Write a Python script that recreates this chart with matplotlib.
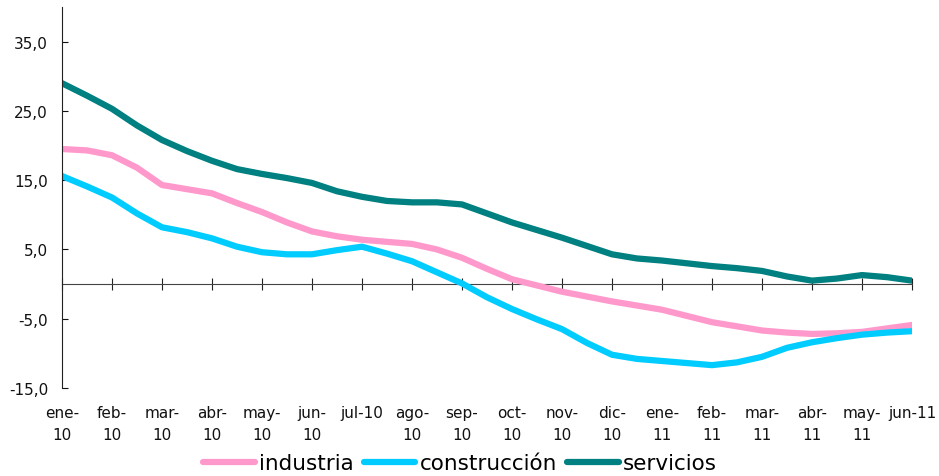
import numpy as np
import matplotlib.pyplot as plt

# half-month steps from ene-10 (0) to jun-11 (17)
x = np.arange(0, 17.5, 0.5)

industria = [19.5, 19.3, 18.6, 16.8, 14.3, 13.7, 13.1, 11.7, 10.4, 8.9,
             7.6, 6.9, 6.4, 6.1, 5.8, 5.0, 3.8, 2.2, 0.7, -0.2,
             -1.1, -1.8, -2.5, -3.1, -3.7, -4.6, -5.5, -6.1, -6.7, -7.0,
             -7.2, -7.1, -6.9, -6.4, -5.9]
construccion = [15.6, 14.1, 12.5, 10.2, 8.2, 7.5, 6.6, 5.4, 4.6, 4.3,
                4.3, 4.9, 5.4, 4.4, 3.3, 1.7, 0.1, -1.9, -3.6, -5.1,
                -6.5, -8.5, -10.2, -10.8, -11.1, -11.4, -11.7, -11.3, -10.5, -9.2,
                -8.4, -7.8, -7.3, -7.0, -6.8]
servicios = [29.0, 27.2, 25.3, 22.9, 20.8, 19.2, 17.8, 16.6, 15.9, 15.3,
             14.6, 13.4, 12.6, 12.0, 11.8, 11.8, 11.5, 10.2, 8.9, 7.8,
             6.7, 5.5, 4.3, 3.7, 3.4, 3.0, 2.6, 2.3, 1.9, 1.1,
             0.5, 0.8, 1.3, 1.0, 0.5]

month_labels = ['ene-\n10', 'feb-\n10', 'mar-\n10', 'abr-\n10', 'may-\n10', 'jun-\n10',
                'jul-10', 'ago-\n10', 'sep-\n10', 'oct-\n10', 'nov-\n10', 'dic-\n10',
                'ene-\n11', 'feb-\n11', 'mar-\n11', 'abr-\n11', 'may-\n11', 'jun-11']
y_ticks = [-15, -5, 5, 15, 25, 35]

plt.rcParams['font.family'] = ['DejaVu Sans']

fig = plt.figure(figsize=(9.39, 4.77), dpi=100)
ax = fig.add_axes([62/939, 1-389/477, (912-62)/939, (389-8)/477])

ax.plot(x, industria, color='#FF99CC', lw=4.5, label='industria', solid_capstyle='round')
ax.plot(x, construccion, color='#00CCFF', lw=4.5, label='construcción', solid_capstyle='round')
ax.plot(x, servicios, color='#008080', lw=4.5, label='servicios', solid_capstyle='round')

ax.set_xlim(0, 17)
ax.set_ylim(-15, 40)

for s in ['top', 'right', 'bottom']:
    ax.spines[s].set_visible(False)
ax.spines['left'].set_color('#222222')

ax.set_yticks(y_ticks)
ax.set_yticklabels([('%.1f' % v).replace('.', ',') for v in y_ticks])
ax.tick_params(axis='y', direction='in', length=4.5, pad=10, labelsize=11, colors='#111111')

ax.set_xticks(range(len(month_labels)))
ax.set_xticklabels(month_labels)
ax.tick_params(axis='x', length=0, pad=12, labelsize=11, colors='#111111')
for lab in ax.get_xticklabels():
    lab.set_linespacing(1.65)

# axis line with ticks at y = 0
sec = ax.secondary_xaxis(15/55)
sec.set_xticks(range(len(month_labels)))
sec.set_xticklabels([])
sec.tick_params(direction='inout', length=8, color='#222222')
sec.spines['bottom'].set_color('#444444')

fig.legend(loc='lower center', bbox_to_anchor=(0.49, -0.035), ncol=3, frameon=False,
           fontsize=15.5, handlelength=2.4, handletextpad=0.2, columnspacing=0.45)

fig.savefig('out.png', dpi=100)
